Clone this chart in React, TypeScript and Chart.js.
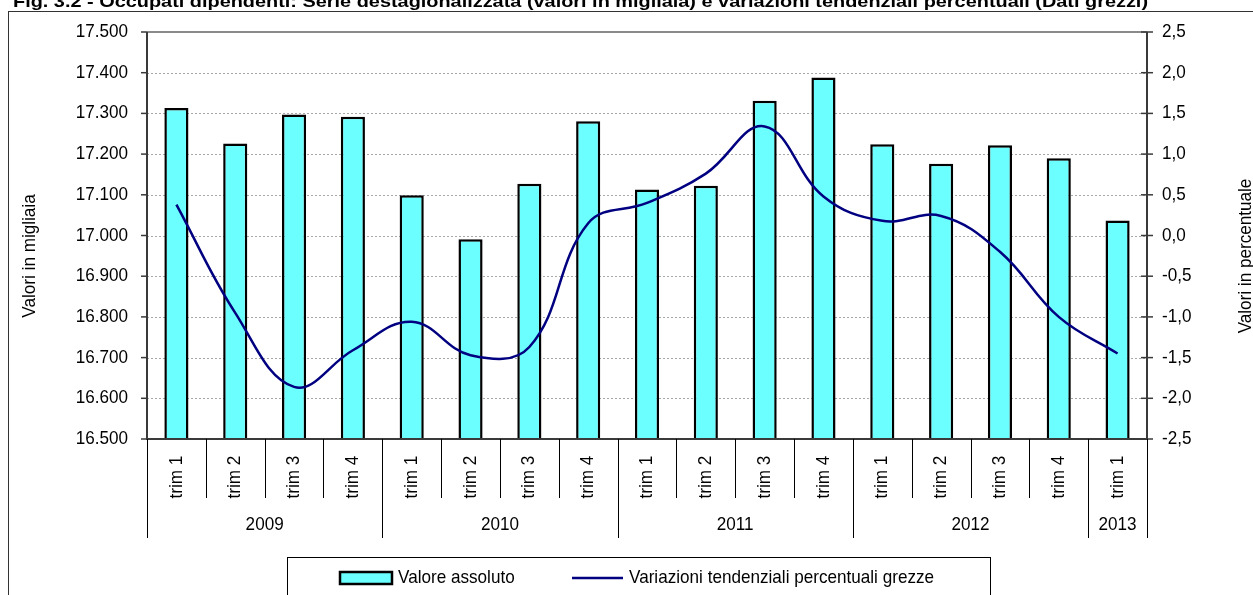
import React, { useEffect, useRef } from "react";
import { Chart, registerables } from "chart.js";

Chart.register(...registerables);

const titleText =
  "Fig. 3.2 - Occupati dipendenti: Serie destagionalizzata (valori in migliaia) e variazioni tendenziali percentuali (Dati grezzi)";

const categories = [
  "trim 1", "trim 2", "trim 3", "trim 4",
  "trim 1", "trim 2", "trim 3", "trim 4",
  "trim 1", "trim 2", "trim 3", "trim 4",
  "trim 1", "trim 2", "trim 3", "trim 4",
  "trim 1",
];
const years = ["2009", "2010", "2011", "2012", "2013"];
const yearSpans = [4, 4, 4, 4, 1];

const valoreAssoluto = [
  17313, 17226, 17297, 17292,
  17099, 16991, 17127, 17281,
  17113, 17122, 17331, 17388,
  17224, 17176, 17222, 17190,
  17037,
];
const variazioni = [
  0.38, -0.95, -1.86, -1.41,
  -1.06, -1.47, -1.37, 0.15,
  0.4, 0.76, 1.34, 0.48,
  0.18, 0.24, -0.2, -1.0,
  -1.45,
];

const leftTicks = [17500, 17400, 17300, 17200, 17100, 17000, 16900, 16800, 16700, 16600, 16500];
const rightTicks = [2.5, 2.0, 1.5, 1.0, 0.5, 0.0, -0.5, -1.0, -1.5, -2.0, -2.5];

const leftTitle = "Valori in migliaia";
const rightTitle = "Valori in percentuale";
const legendBar = "Valore assoluto";
const legendLine = "Variazioni tendenziali percentuali grezze";

const BAR_FILL = "#6BFFFF";
const LINE_COLOR = "#000080";
const FONT = "'Liberation Sans', Arial, sans-serif";
const FS = 18.5;
const SX = 0.925;

function fmtLeft(v: number) {
  const s = String(v);
  return s.slice(0, s.length - 3) + "." + s.slice(s.length - 3);
}
function fmtRight(v: number) {
  return v.toFixed(1).replace(".", ",");
}

function txt(ctx: any, s: string, x: number, y: number, align: string, rot = 0) {
  ctx.save();
  ctx.translate(x, y);
  if (rot) ctx.rotate(rot);
  ctx.scale(SX, 1);
  ctx.font = `${FS}px ${FONT}`;
  ctx.textAlign = align;
  ctx.textBaseline = "middle";
  ctx.fillStyle = "#000";
  ctx.fillText(s, 0, 0);
  ctx.restore();
}

const customPlugin = {
  id: "customDraw",
  beforeDatasetsDraw(chart: any) {
    const ctx = chart.ctx;
    const ca = chart.chartArea;
    const y = chart.scales.y;
    ctx.save();
    ctx.strokeStyle = "#a8a8a8";
    ctx.lineWidth = 1;
    ctx.setLineDash([2, 2]);
    leftTicks.forEach((t) => {
      if (t === 17500 || t === 16500) return;
      const py = Math.round(y.getPixelForValue(t)) + 0.5;
      ctx.beginPath();
      ctx.moveTo(ca.left, py);
      ctx.lineTo(ca.right, py);
      ctx.stroke();
    });
    ctx.setLineDash([]);
    ctx.restore();
  },
  afterDraw(chart: any) {
    const ctx = chart.ctx;
    const ca = chart.chartArea;
    const y = chart.scales.y;
    const y1 = chart.scales.y1;
    const x = chart.scales.x;
    ctx.save();

    // outer frame
    ctx.strokeStyle = "#333";
    ctx.lineWidth = 1;
    ctx.strokeRect(8.5, 11.5, 1400, 700);

    // title (bold, clipped at top)
    ctx.save();
    ctx.fillStyle = "#000";
    ctx.font = `bold 17px ${FONT}`;
    const tw = ctx.measureText(titleText).width;
    ctx.translate(13, 7);
    ctx.scale(1135 / tw, 1);
    ctx.textAlign = "left";
    ctx.textBaseline = "alphabetic";
    ctx.fillText(titleText, 0, 0);
    ctx.restore();

    // plot frame
    ctx.strokeStyle = "#8a8a8a";
    ctx.lineWidth = 2;
    ctx.beginPath();
    ctx.moveTo(ca.left, ca.top);
    ctx.lineTo(ca.right, ca.top);
    ctx.stroke();

    ctx.strokeStyle = "#3a3a3a";
    ctx.lineWidth = 2;
    ctx.beginPath();
    ctx.moveTo(ca.left, ca.top);
    ctx.lineTo(ca.left, ca.bottom);
    ctx.lineTo(ca.right, ca.bottom);
    ctx.moveTo(ca.right, ca.top);
    ctx.lineTo(ca.right, ca.bottom);
    ctx.stroke();

    // left ticks & labels
    ctx.lineWidth = 1.5;
    ctx.strokeStyle = "#3a3a3a";
    leftTicks.forEach((t) => {
      const py = y.getPixelForValue(t);
      ctx.beginPath();
      ctx.moveTo(ca.left - 6, py);
      ctx.lineTo(ca.left, py);
      ctx.stroke();
      txt(ctx, fmtLeft(t), ca.left - 19, py, "right");
    });

    // right ticks & labels
    rightTicks.forEach((t) => {
      const py = y1.getPixelForValue(t);
      ctx.beginPath();
      ctx.moveTo(ca.right - 6, py);
      ctx.lineTo(ca.right + 6, py);
      ctx.stroke();
      txt(ctx, fmtRight(t), ca.right + 15, py, "left");
    });

    // axis titles
    txt(ctx, leftTitle, 30, 256, "center", -Math.PI / 2);
    txt(ctx, rightTitle, 1246, 256, "center", -Math.PI / 2);

    // x axis: category separators and labels
    const n = categories.length;
    const step = (ca.right - ca.left) / n;
    ctx.strokeStyle = "#000";
    ctx.lineWidth = 1;
    const yearBounds = new Set<number>();
    let acc = 0;
    yearBounds.add(0);
    yearSpans.forEach((s) => {
      acc += s;
      yearBounds.add(acc);
    });
    for (let k = 0; k <= n; k++) {
      const px = Math.round(ca.left + k * step) + 0.5;
      ctx.beginPath();
      ctx.moveTo(px, ca.bottom);
      ctx.lineTo(px, yearBounds.has(k) ? ca.bottom + 99 : ca.bottom + 59);
      ctx.stroke();
    }
    categories.forEach((c, i) => {
      const cx = x.getPixelForValue(i);
      txt(ctx, c, cx, ca.bottom + 38, "center", -Math.PI / 2);
    });
    let start = 0;
    years.forEach((yr, j) => {
      const x0 = ca.left + start * step;
      const x1 = ca.left + (start + yearSpans[j]) * step;
      txt(ctx, yr, (x0 + x1) / 2, ca.bottom + 86, "center");
      start += yearSpans[j];
    });

    // legend
    ctx.strokeStyle = "#000";
    ctx.lineWidth = 1;
    ctx.strokeRect(287.5, 557.5, 703, 100);
    ctx.fillStyle = BAR_FILL;
    ctx.fillRect(340, 572, 52, 12);
    ctx.lineWidth = 2.5;
    ctx.strokeStyle = "#000";
    ctx.strokeRect(340, 572, 52, 12);
    txt(ctx, legendBar, 398, 578, "left");
    ctx.strokeStyle = LINE_COLOR;
    ctx.lineWidth = 2.5;
    ctx.beginPath();
    ctx.moveTo(572, 578);
    ctx.lineTo(623, 578);
    ctx.stroke();
    txt(ctx, legendLine, 629, 578, "left");

    ctx.restore();
  },
};

export default function App() {
  const ref = useRef<HTMLCanvasElement | null>(null);
  useEffect(() => {
    if (!ref.current) return;
    const chart = new Chart(ref.current, {
      type: "bar",
      data: {
        labels: categories,
        datasets: [
          {
            type: "line",
            label: legendLine,
            data: variazioni,
            yAxisID: "y1",
            borderColor: LINE_COLOR,
            borderWidth: 2.5,
            pointRadius: 0,
            tension: 0.4,
            fill: false,
            order: 0,
          } as any,
          {
            type: "bar",
            label: legendBar,
            data: valoreAssoluto,
            yAxisID: "y",
            backgroundColor: BAR_FILL,
            borderColor: "#000",
            borderWidth: 2.5,
            categoryPercentage: 1,
            barPercentage: 0.41,
            order: 1,
          } as any,
        ],
      },
      options: {
        animation: false,
        responsive: false,
        devicePixelRatio: 1,
        layout: { padding: { left: 147, top: 32, right: 106, bottom: 156 } },
        plugins: { legend: { display: false }, tooltip: { enabled: false }, title: { display: false } },
        scales: {
          x: {
            type: "category",
            offset: true,
            grid: { display: false, drawTicks: false },
            border: { display: false },
            ticks: { display: false },
            afterFit: (s: any) => { s.height = 0; },
          },
          y: {
            position: "left",
            min: 16500,
            max: 17500,
            grid: { display: false, drawTicks: false },
            border: { display: false },
            ticks: { display: false, stepSize: 100 },
            afterFit: (s: any) => { s.width = 0; },
          },
          y1: {
            position: "right",
            min: -2.5,
            max: 2.5,
            grid: { display: false, drawTicks: false },
            border: { display: false },
            ticks: { display: false, stepSize: 0.5 },
            afterFit: (s: any) => { s.width = 0; },
          },
        },
      } as any,
      plugins: [customPlugin],
    });
    return () => chart.destroy();
  }, []);
  return (
    <div style={{ position: "fixed", left: 0, top: 0, width: 1253, height: 595, background: "#fff" }}>
      <canvas ref={ref} width={1253} height={595} style={{ display: "block" }} />
    </div>
  );
}
